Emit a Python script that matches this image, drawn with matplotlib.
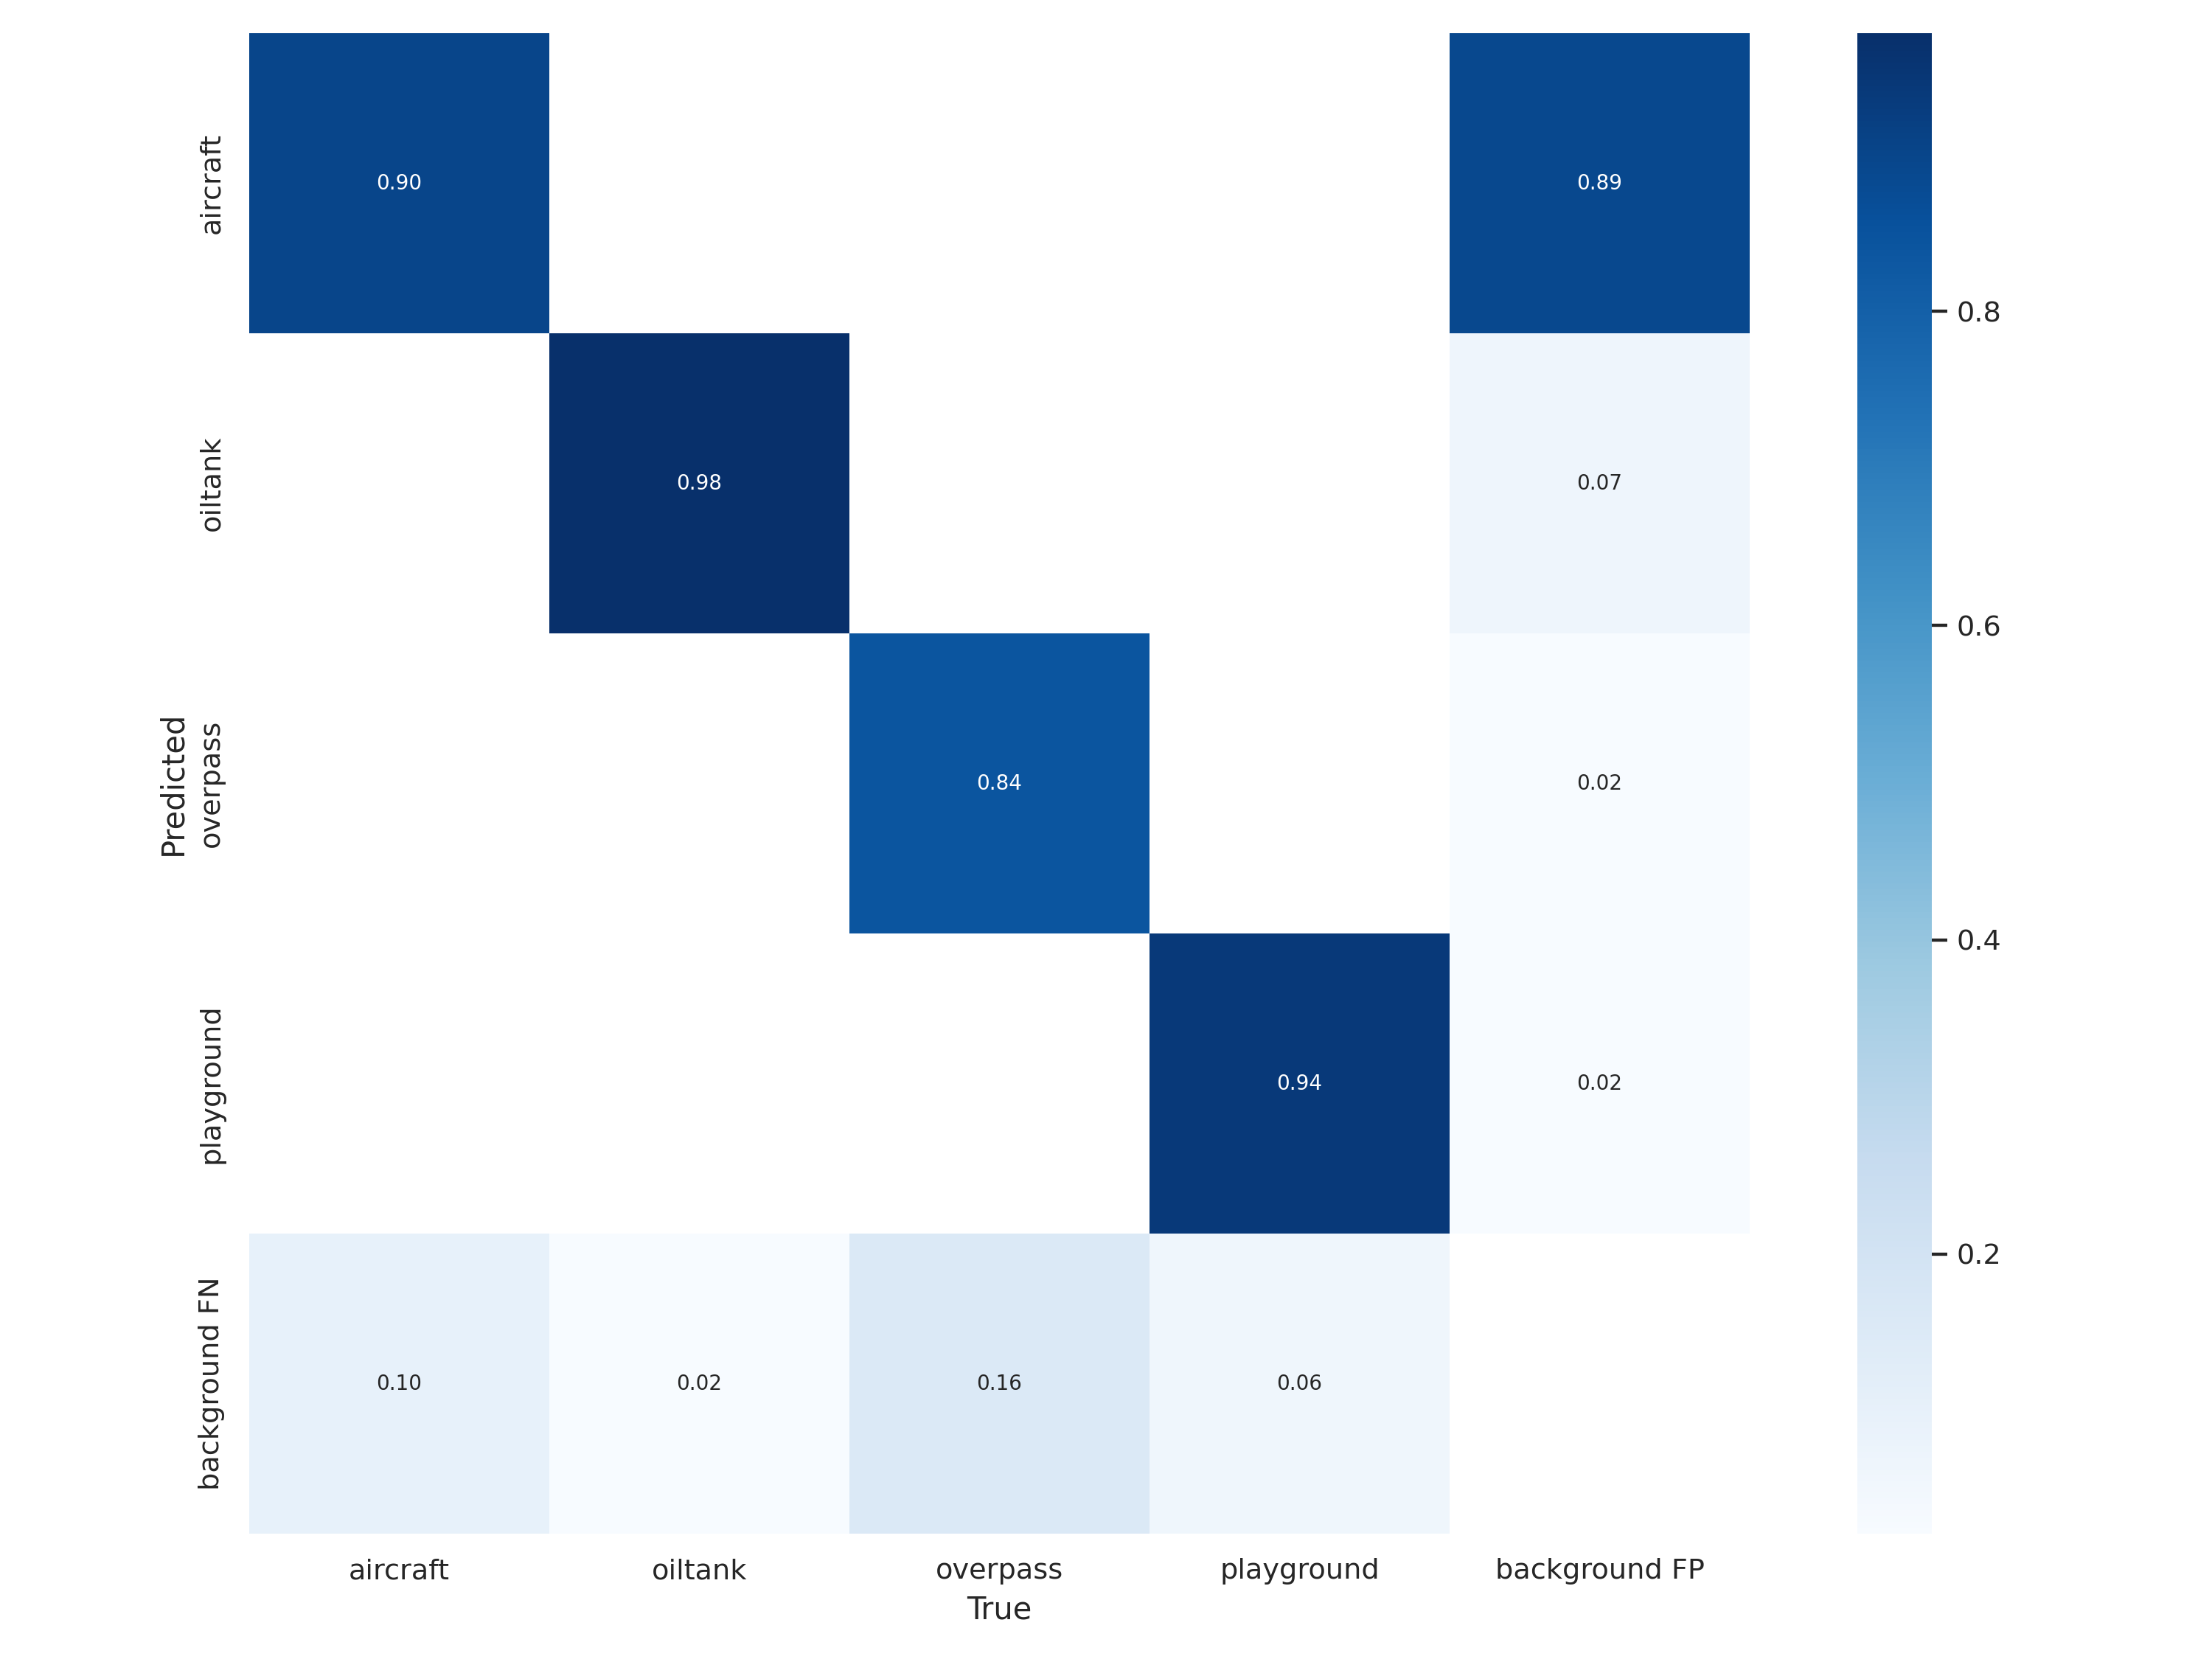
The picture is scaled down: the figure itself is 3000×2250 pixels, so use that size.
import numpy as np
import matplotlib
matplotlib.use("Agg")
import matplotlib.pyplot as plt
import seaborn as sn

names = ["aircraft", "oiltank", "overpass", "playground"]
x_labels = names + ["background FP"]
y_labels = names + ["background FN"]

# rows = predicted, columns = true
row_aircraft = [0.90, np.nan, np.nan, np.nan, 0.89]
row_oiltank = [np.nan, 0.977, np.nan, np.nan, 0.07]
row_overpass = [np.nan, np.nan, 0.84, np.nan, 0.022]
row_playground = [np.nan, np.nan, np.nan, 0.94, 0.022]
row_background_fn = [0.10, 0.022, 0.16, 0.06, np.nan]

array = np.array([row_aircraft, row_oiltank, row_overpass,
                  row_playground, row_background_fn])

fig = plt.figure(figsize=(12, 9), tight_layout=True)
sn.set(font_scale=1.0)
sn.heatmap(array, annot=True, annot_kws={"size": 8}, cmap="Blues", fmt=".2f",
           square=True, xticklabels=x_labels,
           yticklabels=y_labels).set_facecolor((1, 1, 1))
fig.axes[0].set_xlabel("True")
fig.axes[0].set_ylabel("Predicted")
fig.savefig("out.png", dpi=250)
